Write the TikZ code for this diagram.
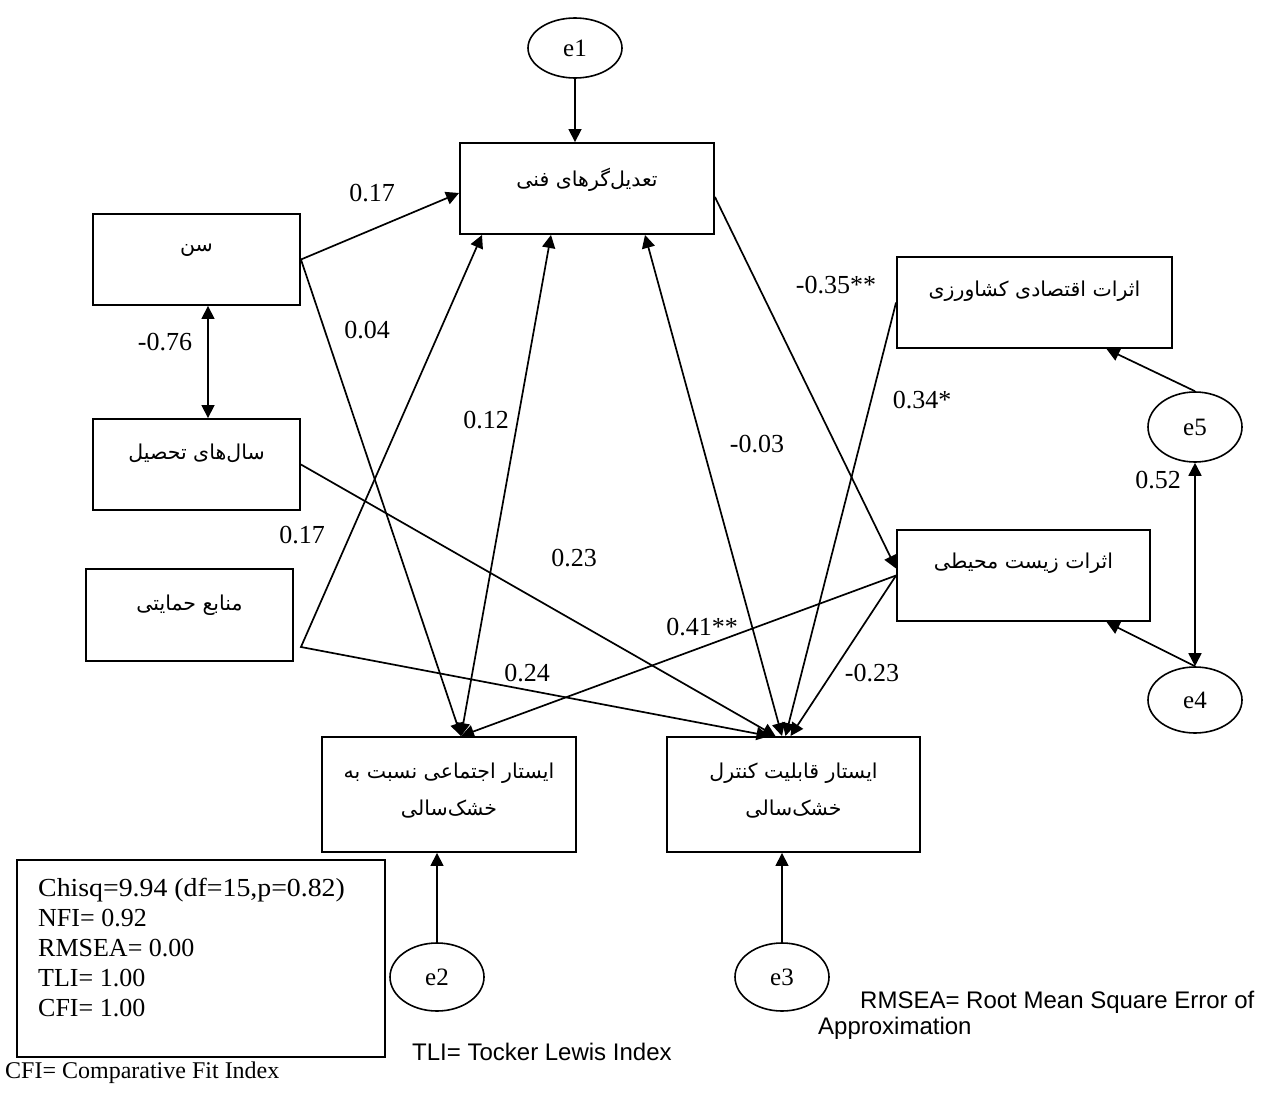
\documentclass[tikz,border=0pt]{standalone}
\usepackage{fontspec}
\setmainfont{Liberation Serif}
\newfontfamily\arialf{Liberation Sans}
\newfontfamily\fa[Script=Arabic]{DejaVu Sans}
\TeXXeTstate=1
\usetikzlibrary{arrows.meta,shapes.geometric,calc}
\begin{document}
\begin{tikzpicture}[x=1pt,y=-1pt,
  box/.style={draw, line width=1.9pt, rectangle, inner sep=0pt},
  err/.style={draw, ellipse, line width=1.6pt, minimum width=94pt, minimum height=68pt, inner sep=0pt, font=\fontsize{25}{28}\selectfont},
  ptxt/.style={inner sep=0pt, font=\fa\fontsize{20.5}{37}\selectfont, align=center},
  lab/.style={inner sep=0pt, font=\fontsize{26}{30}\selectfont},
  conn/.style={line width=1.7pt},
  arr/.style={conn, -{Triangle[length=13pt,width=13pt]}},
  darr/.style={conn, {Triangle[length=13pt,width=13pt]}-{Triangle[length=13pt,width=13pt]}},
]
\useasboundingbox (0,0) rectangle (1264,1095);

% boxes
\node[box, minimum width=254pt, minimum height=91pt] (tc) at (587,188.5) {};
\node[box, minimum width=207pt, minimum height=91pt] (sen) at (196.5,259.5) {};
\node[box, minimum width=207pt, minimum height=91pt] (sal) at (196.5,464.5) {};
\node[box, minimum width=207pt, minimum height=92pt] (manabe) at (189.5,615) {};
\node[box, minimum width=275pt, minimum height=91pt] (eqt) at (1034.5,302.5) {};
\node[box, minimum width=253pt, minimum height=91pt] (zist) at (1023.5,575.5) {};
\node[box, minimum width=254pt, minimum height=115pt] (social) at (449,794.5) {};
\node[box, minimum width=253pt, minimum height=115pt] (control) at (793.5,794.5) {};
\node[box, minimum width=368pt, minimum height=197pt] (stats) at (201,958.5) {};

% box texts
\node[ptxt] (tcT) at ([yshift=-38pt]tc.north) {\beginR تعدیل‌گرهای فنی\endR};
\node[ptxt] (senT) at ([yshift=-37pt]sen.north) {\beginR سن\endR};
\node[ptxt] (salT) at ([yshift=-35pt]sal.north) {\beginR سال‌های تحصیل\endR};
\node[ptxt] (manabeT) at ([yshift=-37pt]manabe.north) {\beginR منابع حمایتی\endR};
\node[ptxt] (eqtT) at ([yshift=-35pt]eqt.north) {\beginR اثرات اقتصادی کشاورزی\endR};
\node[ptxt] (zistT) at ([yshift=-34pt]zist.north) {\beginR اثرات زیست محیطی\endR};
\node[ptxt] (socialT) at ([yshift=-55pt]social.north) {\beginR ایستار اجتماعی نسبت به\endR\\\beginR خشک‌سالی\endR};
\node[ptxt] (controlT) at ([yshift=-55pt]control.north) {\beginR ایستار قابلیت کنترل\endR\\\beginR خشک‌سالی\endR};

% error terms
\node[err, minimum height=60pt] (e1) at (575,48) {e1};
\node[err] (e2) at (437,977) {e2};
\node[err] (e3) at (782,977) {e3};
\node[err, minimum height=66pt] (e4) at (1195,700) {e4};
\node[err, minimum height=70pt] (e5) at (1195,427) {e5};

% connectors
\coordinate (mk) at ([xshift=7pt,yshift=-32pt]manabe.east);
\draw[arr] (sen.east) -- ([yshift=-4.5pt]tc.west);
\draw[arr] (sen.east) -- ([xshift=12pt]social.north);
\draw[arr] (sal.east) -- ([xshift=-18pt]control.north);
\draw[darr] ([xshift=-105pt]tc.south) -- (mk) -- ([xshift=-24pt]control.north);
\draw[darr] ([xshift=-36pt]tc.south) -- ([xshift=12pt]social.north);
\draw[darr] ([xshift=58pt]tc.south) -- ([xshift=-11.5pt]control.north);
\draw[arr] ([yshift=-8.5pt]tc.east) -- ([yshift=7pt]zist.west);
\draw[arr] (eqt.west) -- ([xshift=-8pt]control.north);
\draw[arr] (zist.west) -- ([xshift=12pt]social.north);
\draw[arr] (zist.west) -- ([xshift=-3pt]control.north);
\draw[arr] (e1.south) -- (e1.south |- tc.north);
\draw[arr] (e2.north) -- (e2.north |- social.south);
\draw[arr] (e3.north) -- (e3.north |- control.south);
\draw[darr] (e5.south) -- (e4.north);
\draw[arr] (e5.north) -- ([xshift=72pt]eqt.south);
\draw[arr] (e4.north) -- ([xshift=83pt]zist.south);
\draw[darr] ([xshift=11.5pt]sen.south) -- ([xshift=11.5pt]sal.north);

% path labels
\node[lab] (l1) at (372,193) {0.17};
\node[lab] (l2) at (367,330) {0.04};
\node[lab] (l3) at (165,342) {-0.76};
\node[lab] (l4) at (486,420) {0.12};
\node[lab] (l5) at (757,444) {-0.03};
\node[lab] (l6) at (836,285) {-0.35**};
\node[lab] (l7) at (922,400) {0.34*};
\node[lab] (l8) at (302,535) {0.17};
\node[lab] (l9) at (574,558) {0.23};
\node[lab] (l10) at (702,627) {0.41**};
\node[lab] (l11) at (527,673) {0.24};
\node[lab] (l12) at (872,673) {-0.23};
\node[lab] (l13) at (1158,480) {0.52};

% fit statistics and notes
\node[anchor=north west, inner sep=0pt, align=left, font=\fontsize{26}{30}\selectfont] (statsT) at (38,878)
  {\scalebox{1.07}[1]{Chisq=9.94 (df=15,p=0.82)}\\NFI= 0.92\\RMSEA= 0.00\\TLI= 1.00\\CFI= 1.00};
\node[anchor=west, inner sep=0pt, font=\fontsize{24}{28}\selectfont] (cfiN) at (5,1073) {CFI= Comparative Fit Index};
\node[anchor=west, inner sep=0pt, font=\arialf\fontsize{24}{28}\selectfont] (tliN) at (412,1052) {TLI= Tocker Lewis Index};
\node[anchor=north west, inner sep=0pt, align=left, font=\arialf\fontsize{24}{26}\selectfont] (rmseaN) at (818,991)
  {\hspace*{42pt}RMSEA= Root Mean Square Error of\\Approximation};
\end{tikzpicture}
\end{document}
